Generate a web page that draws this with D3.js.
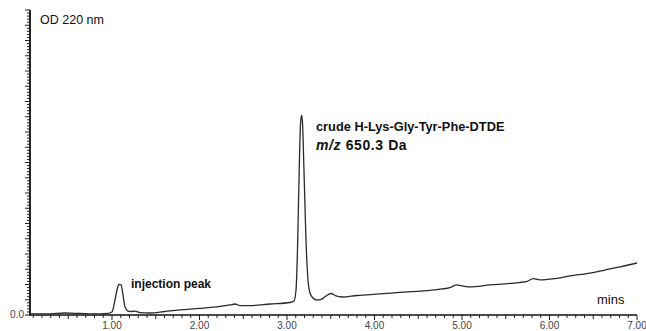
<!DOCTYPE html>
<html>
<head>
<meta charset="utf-8">
<script src="https://cdn.jsdelivr.net/npm/d3@7"></script>
<style>
  html, body { margin: 0; padding: 0; background: #fff; }
  svg { display: block; font-family: "Liberation Sans", Arial, sans-serif; }
</style>
</head>
<body>
<div id="chart"></div>
<script>
// HPLC trace: retention time (min) vs absorbance (arbitrary units)
const times = [
  0.063, 0.291, 0.463, 0.634, 0.863, 0.954, 1.000, 1.034, 1.057, 1.080,
  1.103, 1.126, 1.149, 1.183, 1.217, 1.263, 1.320, 1.434, 1.606, 1.777,
  2.006, 2.234, 2.349, 2.406, 2.463, 2.577, 2.806, 3.034, 3.080, 3.103,
  3.120, 3.137, 3.154, 3.166, 3.177, 3.194, 3.217, 3.240, 3.263, 3.297,
  3.343, 3.389, 3.446, 3.503, 3.560, 3.629, 3.800, 4.063, 4.291, 4.520,
  4.714, 4.863, 4.943, 5.011, 5.091, 5.320, 5.549, 5.743, 5.811, 5.891,
  6.063, 6.234, 6.463, 6.634, 6.806, 7.000
];
const absorbance = [
  0.007, 0.007, 0.013, 0.010, 0.007, 0.010, 0.020, 0.098, 0.164, 0.200,
  0.197, 0.131, 0.052, 0.026, 0.023, 0.026, 0.016, 0.013, 0.023, 0.033,
  0.043, 0.056, 0.066, 0.072, 0.062, 0.062, 0.072, 0.082, 0.092, 0.164,
  0.426, 0.885, 1.246, 1.311, 1.266, 0.951, 0.492, 0.230, 0.144, 0.111,
  0.098, 0.102, 0.125, 0.141, 0.125, 0.118, 0.128, 0.138, 0.148, 0.157,
  0.167, 0.180, 0.197, 0.190, 0.184, 0.197, 0.207, 0.220, 0.239, 0.230,
  0.239, 0.256, 0.275, 0.295, 0.315, 0.341
];
const xMajorTicks = [1, 2, 3, 4, 5, 6, 7];
const yLabelTicks = [0];

const width = 646, height = 331;
const margin = { top: 10, right: 9, bottom: 16, left: 30 };

const svg = d3.select("#chart").append("svg")
  .attr("width", width)
  .attr("height", height);

const x = d3.scaleLinear([0.063, 7.0], [margin.left, width - margin.right]);
const y = d3.scaleLinear([0, 2.0], [height - margin.bottom, margin.top]);

// ---- x axis ----
const xMinor = d3.range(1, 71).map(i => i / 10).filter(t => t >= x.domain()[0]);
const xAxisG = svg.append("g")
  .attr("transform", `translate(0,${y(0)})`);

xAxisG.selectAll("line.tick")
  .data(xMinor)
  .join("line")
  .attr("class", "tick")
  .attr("x1", d => x(d))
  .attr("x2", d => x(d))
  .attr("y1", 0)
  .attr("y2", d => Math.abs(d - Math.round(d)) < 1e-6 ? 5 : (Math.abs(d * 2 - Math.round(d * 2)) < 1e-6 ? 4 : 3))
  .attr("stroke", "#222")
  .attr("stroke-width", 1);

xAxisG.append("line")
  .attr("x1", x.range()[0] - 1)
  .attr("x2", x.range()[1])
  .attr("stroke", "#111")
  .attr("stroke-width", 1.6);

xAxisG.selectAll("text")
  .data(xMajorTicks)
  .join("text")
  .attr("x", d => x(d))
  .attr("y", 14)
  .attr("text-anchor", "middle")
  .attr("font-size", 10)
  .attr("fill", "#444")
  .text(d3.format(".2f"));

// ---- y axis ----
const yMinor = d3.range(0, 101).map(i => i * 0.02);
const yAxisG = svg.append("g")
  .attr("transform", `translate(${x.range()[0]},0)`);

yAxisG.selectAll("line.tick")
  .data(yMinor)
  .join("line")
  .attr("class", "tick")
  .attr("y1", d => y(d))
  .attr("y2", d => y(d))
  .attr("x1", 0)
  .attr("x2", (d, i) => i % 5 === 0 ? -5 : -3)
  .attr("stroke", "#222")
  .attr("stroke-width", 1);

yAxisG.append("line")
  .attr("y1", y.range()[0])
  .attr("y2", y.range()[1])
  .attr("stroke", "#111")
  .attr("stroke-width", 1.8);

yAxisG.selectAll("text")
  .data(yLabelTicks)
  .join("text")
  .attr("x", -6)
  .attr("y", d => y(d))
  .attr("dy", "0.32em")
  .attr("text-anchor", "end")
  .attr("font-size", 10)
  .attr("fill", "#444")
  .text(d3.format(".1f"));

// ---- trace ----
const trace = times.map((t, i) => [t, absorbance[i]]);
svg.append("path")
  .datum(trace)
  .attr("fill", "none")
  .attr("stroke", "#2a2a2a")
  .attr("stroke-width", 1.3)
  .attr("stroke-linejoin", "round")
  .attr("d", d3.line().x(d => x(d[0])).y(d => y(d[1])).curve(d3.curveMonotoneX));

// ---- labels ----
svg.append("text")
  .attr("x", 40).attr("y", 24)
  .attr("font-size", 12.5)
  .attr("fill", "#111")
  .text("OD 220 nm");

svg.append("text")
  .attr("x", 597).attr("y", 304)
  .attr("font-size", 13)
  .attr("fill", "#111")
  .text("mins");

svg.append("text")
  .attr("x", 131).attr("y", 288)
  .attr("font-size", 12)
  .attr("font-weight", "bold")
  .attr("fill", "#111")
  .text("injection peak");

svg.append("text")
  .attr("x", 316).attr("y", 131)
  .attr("font-size", 12.8)
  .attr("font-weight", "bold")
  .attr("fill", "#111")
  .text("crude H-Lys-Gly-Tyr-Phe-DTDE");

const mz = svg.append("text")
  .attr("x", 316).attr("y", 150)
  .attr("font-size", 14)
  .attr("font-weight", "bold")
  .attr("letter-spacing", 0.6)
  .attr("fill", "#111");
mz.append("tspan").attr("font-style", "italic").text("m/z");
mz.append("tspan").text(" 650.3 Da");
</script>
</body>
</html>
